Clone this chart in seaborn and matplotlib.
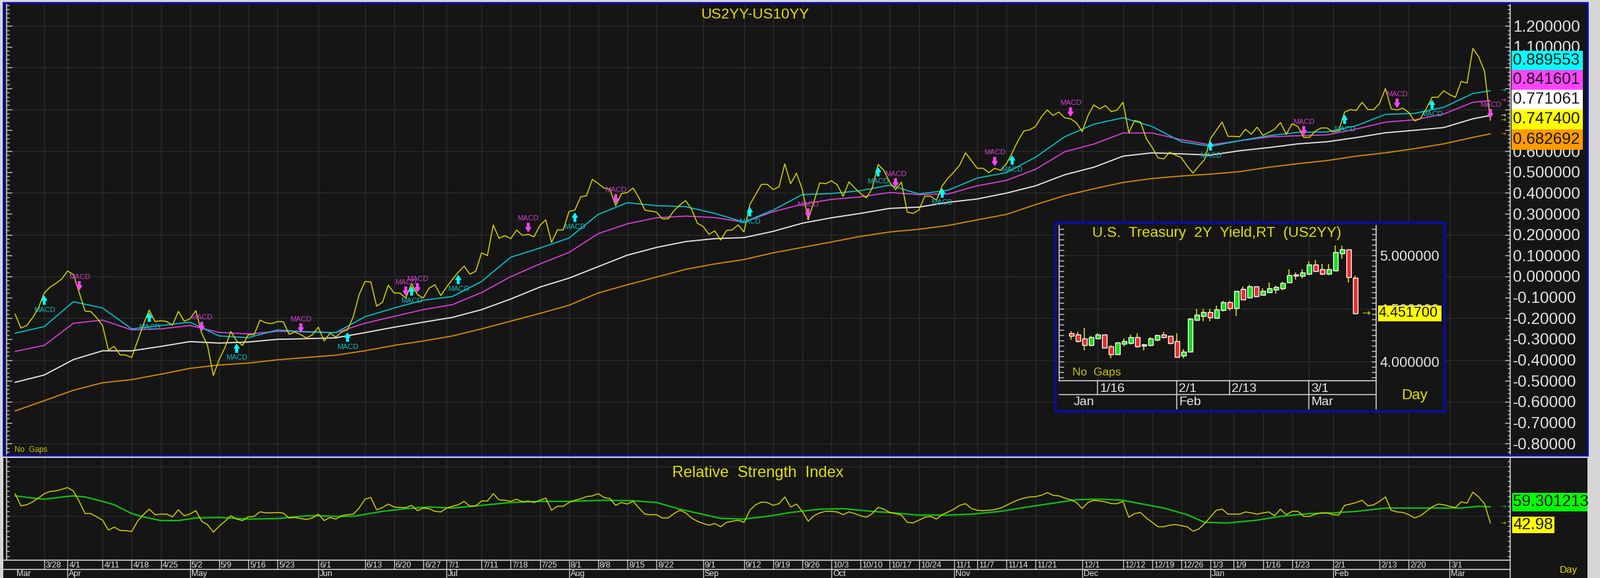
import numpy as np
import pandas as pd
import matplotlib
matplotlib.use("Agg")
import matplotlib.pyplot as plt
import matplotlib.transforms as mtransforms
from matplotlib.patches import Rectangle
from matplotlib.lines import Line2D
from matplotlib.ticker import MultipleLocator, FixedLocator, FuncFormatter
import seaborn as sns

# ---------------------------------------------------------------- data
dates = pd.bdate_range("2022-03-21", "2023-03-10").drop(pd.Timestamp("2023-01-02"))

spread = [
    -0.180, -0.247, -0.235, -0.198, -0.151, -0.079, -0.051, -0.033, -0.012, 0.026,
    0.009, -0.077, -0.166, -0.168, -0.198, -0.235, -0.353, -0.335, -0.375, -0.377,
    -0.388, -0.309, -0.230, -0.161, -0.216, -0.212, -0.216, -0.233, -0.167, -0.214,
    -0.203, -0.164, -0.272, -0.330, -0.474, -0.398, -0.340, -0.264, -0.309, -0.330,
    -0.279, -0.279, -0.209, -0.222, -0.226, -0.216, -0.217, -0.277, -0.266, -0.279,
    -0.295, -0.279, -0.243, -0.309, -0.272, -0.290, -0.266, -0.256, -0.193, -0.087,
    -0.024, -0.026, -0.142, -0.124, -0.042, -0.079, -0.080, -0.103, -0.035, -0.087,
    -0.103, -0.056, -0.040, -0.091, -0.051, -0.014, 0.020, 0.049, 0.011, 0.025,
    0.113, 0.100, 0.246, 0.183, 0.195, 0.181, 0.222, 0.197, 0.202, 0.190,
    0.244, 0.271, 0.163, 0.223, 0.223, 0.311, 0.318, 0.381, 0.387, 0.465,
    0.445, 0.423, 0.418, 0.339, 0.397, 0.402, 0.423, 0.376, 0.318, 0.313,
    0.308, 0.276, 0.276, 0.315, 0.342, 0.363, 0.323, 0.255, 0.239, 0.202,
    0.218, 0.174, 0.220, 0.223, 0.247, 0.213, 0.344, 0.392, 0.441, 0.441,
    0.416, 0.429, 0.539, 0.444, 0.494, 0.418, 0.271, 0.360, 0.448, 0.444,
    0.458, 0.439, 0.384, 0.453, 0.423, 0.397, 0.376, 0.423, 0.536, 0.508,
    0.450, 0.416, 0.452, 0.308, 0.302, 0.318, 0.384, 0.384, 0.365, 0.434,
    0.471, 0.500, 0.534, 0.592, 0.555, 0.518, 0.518, 0.497, 0.518, 0.508,
    0.539, 0.592, 0.650, 0.697, 0.702, 0.718, 0.764, 0.797, 0.771, 0.787,
    0.760, 0.755, 0.736, 0.694, 0.771, 0.821, 0.803, 0.818, 0.789, 0.797,
    0.834, 0.689, 0.747, 0.739, 0.660, 0.618, 0.568, 0.563, 0.595, 0.581,
    0.569, 0.529, 0.495, 0.529, 0.560, 0.660, 0.700, 0.739, 0.671, 0.671,
    0.669, 0.705, 0.681, 0.715, 0.676, 0.690, 0.705, 0.737, 0.681, 0.731,
    0.718, 0.666, 0.666, 0.697, 0.711, 0.711, 0.692, 0.697, 0.787, 0.799,
    0.795, 0.834, 0.799, 0.799, 0.829, 0.900, 0.803, 0.797, 0.806, 0.785,
    0.745, 0.755, 0.803, 0.858, 0.858, 0.889, 0.871, 0.858, 0.934, 0.926,
    1.092, 1.052, 0.982, 0.747400,
]

ma_idx = list(range(0, 251, 5)) + [253]
ma_cyan = [
    -0.272, -0.240, -0.121, -0.151, -0.251, -0.235, -0.219, -0.285, -0.293, -0.256,
    -0.266, -0.269, -0.193, -0.151, -0.114, -0.096, -0.024, 0.092, 0.136, 0.184,
    0.297, 0.353, 0.339, 0.334, 0.302, 0.260, 0.318, 0.392, 0.397, 0.411,
    0.437, 0.395, 0.413, 0.471, 0.497, 0.571, 0.669, 0.729, 0.760, 0.718,
    0.645, 0.623, 0.650, 0.674, 0.690, 0.692, 0.722, 0.776, 0.781, 0.810,
    0.876, 0.889553,
]
ma_magenta = [
    -0.359, -0.330, -0.224, -0.209, -0.256, -0.251, -0.235, -0.268, -0.275, -0.263,
    -0.264, -0.269, -0.224, -0.191, -0.159, -0.135, -0.077, -0.001, 0.060, 0.115,
    0.205, 0.252, 0.281, 0.289, 0.282, 0.260, 0.310, 0.346, 0.369, 0.381,
    0.402, 0.392, 0.395, 0.434, 0.460, 0.513, 0.597, 0.634, 0.687, 0.687,
    0.655, 0.630, 0.650, 0.668, 0.674, 0.678, 0.706, 0.739, 0.750, 0.778,
    0.834, 0.841601,
]
ma_white = [
    -0.507, -0.472, -0.398, -0.356, -0.356, -0.335, -0.312, -0.319, -0.314, -0.301,
    -0.298, -0.294, -0.269, -0.243, -0.219, -0.196, -0.159, -0.108, -0.051, -0.008,
    0.047, 0.102, 0.139, 0.167, 0.181, 0.186, 0.216, 0.255, 0.281, 0.302,
    0.326, 0.332, 0.355, 0.371, 0.399, 0.434, 0.487, 0.523, 0.576, 0.592,
    0.587, 0.581, 0.602, 0.617, 0.635, 0.645, 0.665, 0.688, 0.700, 0.713,
    0.755, 0.771061,
]
ma_orange = [
    -0.644, -0.595, -0.545, -0.509, -0.494, -0.468, -0.440, -0.424, -0.415, -0.399,
    -0.388, -0.377, -0.356, -0.330, -0.309, -0.285, -0.251, -0.214, -0.177, -0.138,
    -0.079, -0.040, -0.003, 0.034, 0.060, 0.081, 0.113, 0.139, 0.165, 0.192,
    0.213, 0.226, 0.244, 0.271, 0.297, 0.344, 0.387, 0.420, 0.450, 0.469,
    0.481, 0.490, 0.502, 0.523, 0.540, 0.555, 0.576, 0.592, 0.612, 0.635,
    0.666, 0.682692,
]

macd_buy = [5, 23, 38, 57, 68, 76, 96, 126, 148, 159, 171, 205, 228, 243]
macd_sell = [11, 32, 49, 67, 69, 88, 103, 136, 151, 168, 181, 221, 237, 253]

rsi = [
    72.5, 60.3, 61.4, 64.3, 68.1, 72.5, 74.7, 75.3, 76.9, 78.6,
    75.1, 64.8, 52.6, 52.6, 49.3, 46.0, 36.1, 39.0, 35.7, 35.5,
    34.6, 44.9, 51.5, 57.0, 51.5, 52.0, 52.0, 49.3, 56.4, 50.4,
    52.2, 55.5, 44.9, 41.6, 33.9, 40.1, 44.9, 50.4, 47.1, 45.6,
    49.3, 49.8, 54.4, 53.3, 53.3, 53.7, 53.1, 48.2, 48.7, 47.6,
    46.7, 48.2, 52.0, 45.6, 48.7, 47.1, 50.4, 51.5, 52.0, 58.1,
    67.0, 68.7, 56.4, 58.6, 62.1, 59.2, 58.6, 58.6, 60.8, 55.5,
    58.1, 57.5, 54.8, 54.2, 58.1, 59.9, 61.4, 64.8, 59.9, 60.3,
    65.2, 65.2, 72.5, 66.3, 65.9, 64.8, 67.0, 64.3, 65.2, 63.7,
    65.9, 68.1, 55.9, 59.9, 59.9, 63.7, 65.9, 67.4, 69.6, 70.3,
    72.5, 68.7, 67.6, 60.8, 63.7, 62.1, 64.8, 58.1, 52.0, 51.5,
    51.5, 48.2, 48.2, 52.6, 55.9, 53.3, 48.2, 44.9, 42.7, 41.0,
    42.7, 39.4, 43.8, 44.9, 46.0, 43.8, 55.9, 61.4, 64.1, 63.7,
    60.8, 62.5, 69.2, 59.2, 62.1, 54.8, 44.9, 50.4, 53.3, 54.8,
    54.8, 54.2, 51.5, 54.2, 52.6, 50.4, 48.9, 52.6, 58.8, 57.0,
    53.7, 52.6, 51.1, 43.8, 43.2, 46.0, 48.9, 49.8, 47.1, 51.5,
    54.2, 57.0, 60.8, 62.5, 57.7, 55.9, 55.5, 55.9, 56.6, 58.1,
    60.8, 63.7, 66.3, 68.1, 69.2, 69.6, 70.9, 73.6, 70.9, 70.3,
    68.1, 66.5, 63.7, 57.7, 63.7, 65.9, 65.2, 64.3, 62.5, 62.5,
    64.8, 48.9, 52.6, 53.7, 48.2, 43.8, 39.4, 39.4, 41.0, 41.6,
    40.5, 39.4, 35.0, 37.2, 42.7, 49.3, 55.9, 57.0, 52.0, 52.0,
    52.0, 54.2, 53.3, 52.0, 53.3, 54.2, 50.4, 57.0, 51.5, 54.8,
    54.8, 49.8, 49.8, 52.0, 53.3, 53.3, 51.5, 51.1, 60.8, 62.1,
    63.7, 65.9, 60.3, 61.4, 64.8, 69.2, 55.9, 54.2, 53.7, 51.5,
    48.2, 50.4, 54.8, 59.2, 62.1, 61.4, 59.9, 58.6, 64.3, 63.0,
    74.0, 69.2, 62.5, 42.98,
]
rsi_ma_idx = [0, 3, 5, 9, 10, 12, 15, 17, 20, 22, 25, 28, 31, 35, 40, 45, 48, 50, 52, 55,
              58, 63, 67, 71, 75, 80, 85, 90, 95, 101, 106, 110, 114, 119, 121, 125, 129,
              133, 138, 142, 147, 151, 155, 160, 164, 169, 173, 178, 182, 186, 190, 193,
              197, 201, 204, 208, 213, 217, 222, 226, 230, 235, 239, 244, 248, 251, 253]
rsi_ma = [70.3, 68.1, 67.0, 69.8, 70.3, 69.2, 64.8, 61.4, 52.6, 49.3, 45.6, 45.6, 48.2,
          48.7, 47.1, 47.6, 49.3, 50.4, 50.4, 49.8, 49.8, 54.8, 57.5, 59.2, 58.1, 60.8,
          63.7, 64.8, 64.8, 65.9, 65.4, 63.7, 57.0, 50.4, 47.8, 47.1, 49.8, 53.7, 57.0,
          57.5, 54.8, 53.1, 51.1, 51.1, 52.0, 54.8, 58.6, 63.0, 66.5, 67.0, 65.9, 62.5,
          58.1, 51.5, 43.8, 43.2, 46.0, 49.8, 52.6, 53.3, 54.8, 58.1, 58.1, 58.1, 58.1,
          59.9, 59.301213]

tick_dates = ["2022-03-28", "2022-04-01", "2022-04-11", "2022-04-18", "2022-04-25", "2022-05-02",
              "2022-05-09", "2022-05-16", "2022-05-23", "2022-06-01", "2022-06-13", "2022-06-20",
              "2022-06-27", "2022-07-01", "2022-07-11", "2022-07-18", "2022-07-25", "2022-08-01",
              "2022-08-08", "2022-08-15", "2022-08-22", "2022-09-01", "2022-09-12", "2022-09-19",
              "2022-09-26", "2022-10-03", "2022-10-10", "2022-10-17", "2022-10-24", "2022-11-01",
              "2022-11-07", "2022-11-14", "2022-11-21", "2022-12-01", "2022-12-12", "2022-12-19",
              "2022-12-26", "2023-01-03", "2023-01-09", "2023-01-16", "2023-01-23", "2023-02-01",
              "2023-02-13", "2023-02-20", "2023-03-01"]
tick_labels = ["3/28", "4/1", "4/11", "4/18", "4/25", "5/2", "5/9", "5/16", "5/23", "6/1",
               "6/13", "6/20", "6/27", "7/1", "7/11", "7/18", "7/25", "8/1", "8/8", "8/15",
               "8/22", "9/1", "9/12", "9/19", "9/26", "10/3", "10/10", "10/17", "10/24", "11/1",
               "11/7", "11/14", "11/21", "12/1", "12/12", "12/19", "12/26", "1/3", "1/9", "1/16",
               "1/23", "2/1", "2/13", "2/20", "3/1"]
month_dates = ["2022-03-21", "2022-04-01", "2022-05-02", "2022-06-01", "2022-07-01", "2022-08-01",
               "2022-09-01", "2022-10-03", "2022-11-01", "2022-12-01", "2023-01-03", "2023-02-01",
               "2023-03-01"]
month_labels = ["Mar", "Apr", "May", "Jun", "Jul", "Aug", "Sep", "Oct", "Nov", "Dec", "Jan", "Feb", "Mar"]

# inset: U.S. Treasury 2Y yield daily candles
us2_dates = pd.bdate_range("2023-01-10", "2023-03-10")
us2_open = [4.267, 4.253, 4.219, 4.153, 4.219, 4.253, 4.143, 4.066, 4.168, 4.174, 4.230,
            4.149, 4.153, 4.203, 4.257, 4.240, 4.190, 4.054, 4.095, 4.391, 4.426, 4.464,
            4.412, 4.484, 4.557, 4.505, 4.681, 4.604, 4.706, 4.629, 4.654, 4.675, 4.691,
            4.743, 4.820, 4.805, 4.826, 4.915, 4.867, 4.826, 4.857, 5.019, 5.054, 4.791]
us2_high = [4.288, 4.277, 4.319, 4.242, 4.269, 4.253, 4.157, 4.178, 4.215, 4.253, 4.267,
            4.170, 4.230, 4.257, 4.282, 4.240, 4.267, 4.116, 4.412, 4.495, 4.495, 4.495,
            4.530, 4.571, 4.571, 4.667, 4.706, 4.718, 4.706, 4.691, 4.743, 4.712, 4.754,
            4.867, 4.836, 4.867, 4.944, 4.957, 4.919, 4.919, 5.091, 5.091, 5.054, 4.805]
us2_low = [4.205, 4.180, 4.106, 4.143, 4.215, 4.128, 4.029, 4.066, 4.143, 4.164, 4.128,
           4.106, 4.143, 4.195, 4.219, 4.164, 4.039, 4.029, 4.091, 4.385, 4.381, 4.381,
           4.402, 4.474, 4.480, 4.429, 4.578, 4.604, 4.604, 4.629, 4.650, 4.640, 4.671,
           4.739, 4.768, 4.781, 4.816, 4.843, 4.816, 4.816, 4.857, 4.967, 4.743, 4.4517]
us2_close = [4.242, 4.190, 4.153, 4.232, 4.257, 4.132, 4.066, 4.178, 4.190, 4.230, 4.143,
             4.159, 4.219, 4.250, 4.230, 4.174, 4.045, 4.095, 4.406, 4.443, 4.468, 4.418,
             4.491, 4.557, 4.505, 4.667, 4.584, 4.706, 4.613, 4.667, 4.687, 4.702, 4.737,
             4.816, 4.809, 4.841, 4.915, 4.853, 4.826, 4.867, 5.029, 5.054, 4.795, 4.4517]
us2_tick_dates = ["2023-01-16", "2023-02-01", "2023-02-13", "2023-03-01"]
us2_tick_labels = ["1/16", "2/1", "2/13", "3/1"]
us2_month_dates = ["2023-01-10", "2023-02-01", "2023-03-01"]
us2_month_labels = ["Jan", "Feb", "Mar"]
us2_yticks = [4.0, 4.5, 5.0]

# ---------------------------------------------------------------- style
sns.set_theme(style="dark")
plt.rcParams["font.family"] = ["Liberation Sans", "DejaVu Sans"]

BG = "#151515"
GRID = "#2b2b2b"
AXC = "#d0d0d0"
TXT = "#e6e6e6"
YEL_T = "#e0e000"
C_Y, C_CY, C_MG, C_WH, C_OR = "#d6d600", "#00c8cc", "#e040e0", "#e8e8e8", "#d88a00"

W, H = 2423, 876
fig = plt.figure(figsize=(W / 100, H / 100), dpi=100, facecolor="#d6d6d6")


def fbox(x0, y0, x1, y1):
    return [x0 / W, 1 - y1 / H, (x1 - x0) / W, (y1 - y0) / H]


def fy(py):
    return 1 - py / H


# panel backgrounds
fig.patches.append(Rectangle((5 / W, fy(690)), (2404 - 5) / W, (690 - 4) / H, transform=fig.transFigure,
                             facecolor=BG, edgecolor="#0a0ab4", lw=2, zorder=-5))
fig.patches.append(Rectangle((5 / W, 0), (2404 - 5) / W, (H - 694) / H, transform=fig.transFigure,
                             facecolor=BG, edgecolor="none", zorder=-5))

tick_idx = [dates.get_loc(pd.Timestamp(d)) for d in tick_dates]
month_idx = [dates.get_loc(pd.Timestamp(d)) for d in month_dates]
x_all = np.arange(len(spread))
XL = (-1.455, 256.4)

# ---------------------------------------------------------------- main panel
ax = fig.add_axes(fbox(10, 7, 2287, 688))
ax.set_facecolor(BG)
ax.set_xlim(*XL)
ax.set_ylim(-0.850, 1.3017)
for s in ["top", "bottom"]:
    ax.spines[s].set_visible(False)
for s in ["left", "right"]:
    ax.spines[s].set_color(AXC)
    ax.spines[s].set_linewidth(1.2)
for v in np.arange(-0.8, 1.21, 0.2):
    ax.axhline(v, color=GRID, lw=1, zorder=0.5)
for xi in tick_idx:
    ax.axvline(xi, color=GRID, lw=1, zorder=0.5)


def yfmt(v, pos):
    if v < -1e-9:
        return f"{v:.5f}"
    return f"{abs(v):.6f}"


ax.yaxis.set_major_locator(FixedLocator(np.round(np.arange(-0.8, 1.21, 0.1), 2)))
ax.yaxis.set_minor_locator(MultipleLocator(0.02))
ax.yaxis.set_major_formatter(FuncFormatter(yfmt))
ax.tick_params(axis="y", which="both", direction="in", left=True, right=True, labelleft=False,
               labelright=True, color=AXC, labelcolor=TXT, labelsize=17.5, pad=3)
ax.tick_params(axis="y", which="major", length=6, width=1)
ax.tick_params(axis="y", which="minor", length=3, width=1)
ax.tick_params(axis="x", bottom=False, labelbottom=False)
ax.set_xlabel("")
ax.set_ylabel("")

sns.lineplot(x=ma_idx, y=ma_orange, ax=ax, color=C_OR, lw=1.3, legend=False)
sns.lineplot(x=ma_idx, y=ma_white, ax=ax, color=C_WH, lw=1.3, legend=False)
sns.lineplot(x=ma_idx, y=ma_magenta, ax=ax, color=C_MG, lw=1.2, legend=False)
sns.lineplot(x=ma_idx, y=ma_cyan, ax=ax, color=C_CY, lw=1.2, legend=False)
sns.lineplot(x=x_all, y=spread, ax=ax, color=C_Y, lw=1.1, legend=False)
ax.set_xlabel("")
ax.set_ylabel("")

arrow_style = "simple,head_length=0.45,head_width=0.55,tail_width=0.22"
for i in macd_buy:
    v = spread[i]
    ax.annotate("", xy=(i, v), xytext=(0, -12.5), textcoords="offset points",
                arrowprops=dict(arrowstyle=arrow_style, color="#00ffff", shrinkA=0, shrinkB=3.5,
                                mutation_scale=10), zorder=6)
    ax.annotate("MACD", xy=(i, v), xytext=(0, -18.5), textcoords="offset points", ha="center",
                va="center", color="#12bcbc", fontsize=8, zorder=6)
for i in macd_sell:
    v = spread[i]
    ax.annotate("", xy=(i, v), xytext=(0, 12), textcoords="offset points",
                arrowprops=dict(arrowstyle=arrow_style, color="#ff44ff", shrinkA=0, shrinkB=3,
                                mutation_scale=10), zorder=6)
    ax.annotate("MACD", xy=(i, v), xytext=(0, 17), textcoords="offset points", ha="center",
                va="center", color="#d040d0", fontsize=8, zorder=6)

# small arrows at right edge
for val, col in [(ma_cyan[-1], C_CY), (ma_magenta[-1], C_MG), (ma_white[-1], C_WH),
                 (spread[-1], C_Y), (ma_orange[-1], C_OR)]:
    ax.text(255.2, val, "→", color=col, fontsize=7, ha="center", va="center",
            family="DejaVu Sans", zorder=6)

# value boxes at right
box_rows = [(77, 106, "#00ffff", ma_cyan[-1]), (106, 136, "#ff44ff", ma_magenta[-1]),
            (136, 166, "#ffffff", ma_white[-1]), (166, 196, "#ffff00", spread[-1]),
            (196, 227, "#ff9a00", ma_orange[-1])]
for y0, y1, col, val in box_rows:
    fig.patches.append(Rectangle((2289 / W, fy(y1)), (2397 - 2289) / W, (y1 - y0) / H,
                                 transform=fig.transFigure, facecolor=col, edgecolor="none", zorder=5))
    fig.text(2291 / W, fy((y0 + y1) / 2), f"{val:.6f}", ha="left", va="center", fontsize=17.5,
             color="#141414", zorder=6)

fig.text(1143 / W, fy(23), "US2YY-US10YY", ha="center", va="center", color=YEL_T, fontsize=16)
fig.text(22 / W, fy(682), "No  Gaps", ha="left", va="center", color="#c8c800", fontsize=8.5)

# ---------------------------------------------------------------- RSI panel
ar = fig.add_axes(fbox(10, 694, 2287, 849))
ar.set_facecolor(BG)
ar.set_xlim(*XL)
ar.set_ylim(5.94, 108.3)
ar.spines["top"].set_visible(False)
for s in ["left", "right", "bottom"]:
    ar.spines[s].set_color(AXC)
    ar.spines[s].set_linewidth(1.2)
for v in [50, 100]:
    ar.axhline(v, color=GRID, lw=1, zorder=0.5)
for xi in tick_idx:
    ar.axvline(xi, color=GRID, lw=1, zorder=0.5)
ar.yaxis.set_major_locator(MultipleLocator(5))
ar.tick_params(axis="y", which="both", direction="in", left=True, right=True, labelleft=False,
               labelright=False, color=AXC, length=3, width=1)
ar.tick_params(axis="x", bottom=False, labelbottom=False)
sns.lineplot(x=rsi_ma_idx, y=rsi_ma, ax=ar, color="#10c010", lw=1.6, legend=False)
sns.lineplot(x=x_all, y=rsi, ax=ar, color="#d0d000", lw=1.1, legend=False)
ar.set_xlabel("")
ar.set_ylabel("")
ar.text(255.2, rsi_ma[-1], "→", color="#10c010", fontsize=7, ha="center", va="center", family="DejaVu Sans")
ar.text(255.2, rsi[-1], "→", color="#d0d000", fontsize=7, ha="center", va="center", family="DejaVu Sans")

fig.text(1148 / W, fy(717), "Relative  Strength  Index", ha="center", va="center", color=YEL_T, fontsize=17)

fig.patches.append(Rectangle((2290 / W, fy(775)), (2404 - 2290) / W, 28 / H, transform=fig.transFigure,
                             facecolor="#00ff00", edgecolor="none", zorder=5))
fig.text(2291 / W, fy(761), f"{rsi_ma[-1]:.6f}", ha="left", va="center", fontsize=17.5, color="#141414",
         zorder=6, clip_on=True)
fig.patches.append(Rectangle((2290 / W, fy(808)), (2354 - 2290) / W, 25 / H, transform=fig.transFigure,
                             facecolor="#ffff00", edgecolor="none", zorder=5))
fig.text(2291 / W, fy(795.5), f"{rsi[-1]:.2f}", ha="left", va="center", fontsize=17.5, color="#141414", zorder=6)

# date rows
trans = mtransforms.blended_transform_factory(ar.transData, fig.transFigure)
ttrans = mtransforms.offset_copy(trans, fig=fig, x=2, y=0, units="dots")
for xi, lab in zip(tick_idx, tick_labels):
    ar.add_line(Line2D([xi, xi], [fy(849), fy(863)], transform=trans, color="#c8c8c8", lw=1, clip_on=False))
    ar.text(xi, fy(856.5), lab, transform=ttrans, ha="left", va="center", fontsize=9, color=TXT, clip_on=False)
for k, (xi, lab) in enumerate(zip(month_idx, month_labels)):
    if k > 0:
        ar.add_line(Line2D([xi, xi], [fy(863), fy(876)], transform=trans, color="#c8c8c8", lw=1, clip_on=False))
    ar.text(xi, fy(870), lab, transform=ttrans, ha="left", va="center", fontsize=9, color=TXT, clip_on=False)
fig.add_artist(Line2D([0, 2287 / W], [fy(863), fy(863)], transform=fig.transFigure, color="#c8c8c8", lw=1.2))
fig.add_artist(Line2D([5 / W, 10 / W], [fy(849), fy(849)], transform=fig.transFigure, color="#c8c8c8", lw=1.2))
fig.add_artist(Line2D([2287 / W, 2287 / W], [fy(849), fy(876)], transform=fig.transFigure, color="#c8c8c8", lw=1.2))
fig.text(2362 / W, fy(864), "Day", ha="left", va="center", color=YEL_T, fontsize=11)

# ---------------------------------------------------------------- inset
ib = fig.add_axes(fbox(1598, 337, 2187, 623))
ib.set_facecolor(BG)
ib.set_xticks([])
ib.set_yticks([])
for s in ib.spines.values():
    s.set_color("#0a0ab4")
    s.set_linewidth(2.4)

ai = fig.add_axes(fbox(1604, 342, 2084, 577))
ai.set_facecolor("none")
ai.set_xlim(-1.84, 46.16)
ai.set_ylim(3.82, 5.28)
ai.spines["top"].set_visible(False)
for s in ["left", "right", "bottom"]:
    ai.spines[s].set_color(AXC)
    ai.spines[s].set_linewidth(1.2)
us2_tick_idx = [us2_dates.get_loc(pd.Timestamp(d)) for d in us2_tick_dates]
us2_month_idx = [us2_dates.get_loc(pd.Timestamp(d)) for d in us2_month_dates]
for v in us2_yticks:
    ai.axhline(v, color=GRID, lw=1, zorder=0.5)
for xi in us2_tick_idx:
    ai.axvline(xi, color=GRID, lw=1, zorder=0.5)
ai.yaxis.set_major_locator(FixedLocator(us2_yticks))
ai.yaxis.set_minor_locator(MultipleLocator(0.05))
ai.yaxis.set_major_formatter(FuncFormatter(lambda v, p: f"{v:.6f}"))
ai.tick_params(axis="y", which="both", direction="in", left=True, right=True, labelleft=False,
               labelright=True, color=AXC, labelcolor=TXT, labelsize=15.5, pad=4, length=5, width=1)
ai.tick_params(axis="x", bottom=False, labelbottom=False)

k_idx = np.arange(len(us2_open))
o = np.array(us2_open)
c = np.array(us2_close)
ai.vlines(k_idx, us2_low, us2_high, color="#c8c800", lw=1.3, zorder=2)
up = c >= o
body_bottom = np.minimum(o, c)
body_h = np.maximum(np.abs(c - o), 0.006)
ai.bar(k_idx[up], body_h[up], bottom=body_bottom[up], width=0.62, color="#10e010", zorder=3)
ai.bar(k_idx[~up], body_h[~up], bottom=body_bottom[~up], width=0.62, color="#f02828", zorder=3)

itrans = mtransforms.blended_transform_factory(ai.transData, fig.transFigure)
ittrans = mtransforms.offset_copy(itrans, fig=fig, x=3, y=0, units="dots")
for xi, lab in zip(us2_tick_idx, us2_tick_labels):
    ai.add_line(Line2D([xi, xi], [fy(577), fy(598)], transform=itrans, color="#c8c8c8", lw=1.2, clip_on=False))
    ai.text(xi, fy(589), lab, transform=ittrans, ha="left", va="center", fontsize=14, color=TXT, clip_on=False)
for k, (xi, lab) in enumerate(zip(us2_month_idx, us2_month_labels)):
    if k > 0:
        ai.add_line(Line2D([xi, xi], [fy(598), fy(620)], transform=itrans, color="#c8c8c8", lw=1.2, clip_on=False))
    ai.text(xi, fy(610), lab, transform=ittrans, ha="left", va="center", fontsize=14, color=TXT, clip_on=False)
fig.add_artist(Line2D([1604 / W, 2084 / W], [fy(598), fy(598)], transform=fig.transFigure, color="#c8c8c8", lw=1.2))
fig.add_artist(Line2D([2084 / W, 2084 / W], [fy(577), fy(620)], transform=fig.transFigure, color="#c8c8c8", lw=1.2))

fig.text(1843 / W, fy(353), "U.S.  Treasury  2Y  Yield,RT  (US2YY)", ha="center", va="center",
         color=YEL_T, fontsize=16)
fig.text(1624 / W, fy(565), "No  Gaps", ha="left", va="center", color="#c8c800", fontsize=12.5)
fig.text(2122 / W, fy(600), "Day", ha="left", va="center", color=YEL_T, fontsize=16)
fig.patches.append(Rectangle((2087 / W, fy(487)), (2183 - 2087) / W, 24 / H, transform=fig.transFigure,
                             facecolor="#ffff00", edgecolor="none", zorder=5))
fig.text(2088 / W, fy(475), f"{us2_close[-1]:.6f}", ha="left", va="center", fontsize=15.5,
         color="#141414", zorder=6)
ai.text(44.6, us2_close[-1], "→", color="#d0d000", fontsize=11, ha="center", va="center", family="DejaVu Sans")

fig.savefig("out.png", dpi=100, facecolor=fig.get_facecolor())
